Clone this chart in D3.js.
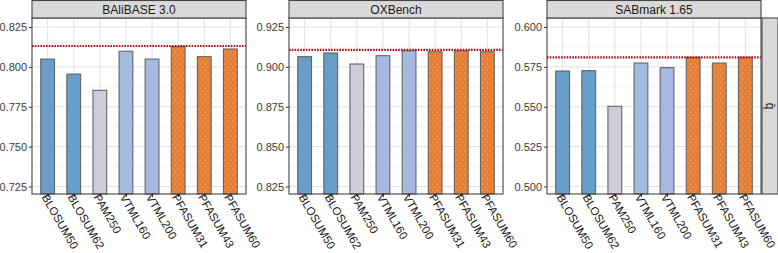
<!DOCTYPE html>
<html>
<head>
<meta charset="utf-8">
<script src="https://cdn.jsdelivr.net/npm/d3@7"></script>
<style>
body { margin: 0; background: #fff; }
svg { font-family: "Liberation Sans", Arial, sans-serif; }
</style>
</head>
<body>
<svg width="778" height="253"></svg>
<script>
// ---------- data ----------
var matrices = ["BLOSUM50", "BLOSUM62", "PAM250", "VTML160", "VTML200", "PFASUM31", "PFASUM43", "PFASUM60"];
var groups = ["BLOSUM", "BLOSUM", "PAM", "VTML", "VTML", "PFASUM", "PFASUM", "PFASUM"];
var benchmarks = ["BAliBASE 3.0", "OXBench", "SABmark 1.65"];
var balibase = [0.8049, 0.7955, 0.7853, 0.8098, 0.8049, 0.8127, 0.8064, 0.8112];
var oxbench = [0.9064, 0.9087, 0.9018, 0.9070, 0.9101, 0.9095, 0.9101, 0.9095];
var sabmark = [0.5724, 0.5726, 0.5503, 0.5774, 0.5745, 0.5810, 0.5774, 0.5810];
var best = [0.8131, 0.9106, 0.5810];
var ticks1 = [0.725, 0.750, 0.775, 0.800, 0.825];
var ticks2 = [0.825, 0.850, 0.875, 0.900, 0.925];
var ticks3 = [0.500, 0.525, 0.550, 0.575, 0.600];

var values = [balibase, oxbench, sabmark];
var tickSets = [ticks1, ticks2, ticks3];
var colors = { BLOSUM: "#689ec7", PAM: "#ccccda", VTML: "#a4bae0", PFASUM: "#e57f38" };

// ---------- layout ----------
var svg = d3.select("svg");
var panelX = [32, 289, 547];
var panelW = 214;
var plotTop = 18, plotBottom = 194, stripH = 18;

var defs = svg.append("defs");
var pat = defs.append("pattern")
    .attr("id", "dots")
    .attr("width", 5).attr("height", 6)
    .attr("patternUnits", "userSpaceOnUse");
pat.append("rect").attr("width", 5).attr("height", 6).attr("fill", colors.PFASUM);
pat.append("circle").attr("cx", 1).attr("cy", 1).attr("r", 0.55).attr("fill", "#fff").attr("opacity", 0.5);
pat.append("circle").attr("cx", 3.5).attr("cy", 4).attr("r", 0.55).attr("fill", "#fff").attr("opacity", 0.5);

benchmarks.forEach(function(name, i) {
    var g = svg.append("g").attr("transform", "translate(" + panelX[i] + ",0)");
    var t = tickSets[i];
    var ys = d3.scaleLinear()
        .domain([t[0] - 0.0047, t[4] + 0.00564])
        .range([plotBottom, plotTop]);
    var xs = d3.scalePoint().domain(matrices).range([0, panelW]).padding(0.6);
    var bw = xs.step() * 0.53;

    // panel bg + grid
    g.append("rect").attr("x", 0).attr("y", plotTop).attr("width", panelW).attr("height", plotBottom - plotTop).attr("fill", "#fff");
    var minor = d3.range(4).map(function(k) { return (t[k] + t[k + 1]) / 2; });
    g.selectAll(".minor").data(minor).enter().append("line")
        .attr("x1", 0).attr("x2", panelW)
        .attr("y1", function(d) { return ys(d); }).attr("y2", function(d) { return ys(d); })
        .attr("stroke", "#eeeeee").attr("stroke-width", 0.6);
    g.selectAll(".major").data(t).enter().append("line")
        .attr("x1", 0).attr("x2", panelW)
        .attr("y1", function(d) { return ys(d); }).attr("y2", function(d) { return ys(d); })
        .attr("stroke", "#e2e2e2").attr("stroke-width", 1);
    g.selectAll(".vgrid").data(matrices).enter().append("line")
        .attr("x1", function(d) { return xs(d); }).attr("x2", function(d) { return xs(d); })
        .attr("y1", plotTop).attr("y2", plotBottom)
        .attr("stroke", "#e2e2e2").attr("stroke-width", 1);

    // bars
    g.selectAll(".bar").data(values[i]).enter().append("rect")
        .attr("x", function(d, j) { return xs(matrices[j]) - bw / 2; })
        .attr("y", function(d) { return ys(d); })
        .attr("width", bw)
        .attr("height", function(d) { return plotBottom - ys(d); })
        .attr("fill", function(d, j) { return groups[j] === "PFASUM" ? "url(#dots)" : colors[groups[j]]; })
        .attr("stroke", "#5a5a5a").attr("stroke-width", 1);

    // best line
    g.append("line")
        .attr("x1", 0).attr("x2", panelW)
        .attr("y1", ys(best[i])).attr("y2", ys(best[i]))
        .attr("stroke", "#a8101a").attr("stroke-width", 2.2)
        .attr("stroke-dasharray", "1.6,1.2");

    // border
    g.append("rect").attr("x", 0).attr("y", plotTop).attr("width", panelW).attr("height", plotBottom - plotTop)
        .attr("fill", "none").attr("stroke", "#444").attr("stroke-width", 1.1);

    // strip
    g.append("rect").attr("x", 0).attr("y", 0.5).attr("width", panelW).attr("height", stripH - 0.5)
        .attr("fill", "#d9d9d9").attr("stroke", "#444").attr("stroke-width", 1.1);
    g.append("text").attr("x", panelW / 2).attr("y", 13.5)
        .attr("text-anchor", "middle").attr("font-size", 12).attr("fill", "#1a1a1a")
        .text(name);

    // y axis
    var ya = g.append("g").call(d3.axisLeft(ys).tickValues(t).tickFormat(d3.format(".3f")).tickSize(3).tickPadding(2));
    ya.select(".domain").remove();
    ya.selectAll("line").attr("stroke", "#333");
    ya.selectAll("text").attr("font-size", 11).attr("fill", "#3a3a3a").attr("font-family", "Liberation Sans, Arial, sans-serif");

    // x axis
    var xa = g.append("g").attr("transform", "translate(0," + plotBottom + ")")
        .call(d3.axisBottom(xs).tickSize(3).tickPadding(0));
    xa.select(".domain").remove();
    xa.selectAll("line").attr("stroke", "#333");
    xa.selectAll("text")
        .attr("font-size", 11.5).attr("fill", "#1a1a1a")
        .attr("font-family", "Liberation Sans, Arial, sans-serif")
        .attr("text-anchor", "start")
        .attr("x", 0).attr("y", 0).attr("dy", 0)
        .attr("transform", "translate(-7,3) rotate(60)");
});

// right strip
var rs = svg.append("g");
rs.append("rect").attr("x", 762).attr("y", plotTop).attr("width", 16).attr("height", plotBottom - plotTop)
    .attr("fill", "#d9d9d9").attr("stroke", "#444").attr("stroke-width", 1.1);
rs.append("text")
    .attr("transform", "translate(766," + ((plotTop + plotBottom) / 2) + ") rotate(90)")
    .attr("text-anchor", "middle").attr("font-size", 12).attr("fill", "#1a1a1a")
    .text("q\u0304");
</script>
</body>
</html>
